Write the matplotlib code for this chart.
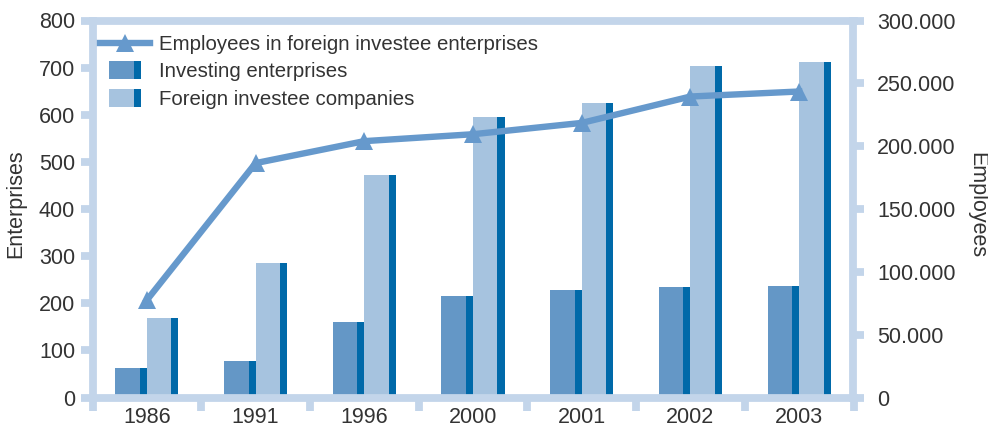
import matplotlib
matplotlib.use("Agg")
import matplotlib.pyplot as plt
import numpy as np
from matplotlib.patches import Rectangle
from matplotlib.lines import Line2D
from matplotlib.legend_handler import HandlerBase
from matplotlib.ticker import FuncFormatter, FixedLocator, MultipleLocator

plt.rcParams['font.family'] = ['Liberation Sans', 'DejaVu Sans']

# ---- data ----
years = ["1986", "1991", "1996", "2000", "2001", "2002", "2003"]
investing = [62, 78, 160, 215, 228, 234, 236]
foreign = [168, 286, 473, 595, 625, 703, 712]
employees = [77500, 186500, 204000, 209500, 218500, 239500, 243500]

series_labels = ["Employees in foreign investee enterprises",
                 "Investing enterprises",
                 "Foreign investee companies"]

# ---- style ----
C_INV = "#6497c6"
C_STRIPE = "#0069a9"
C_FOR = "#a6c3df"
C_LINE = "#6699cc"
C_AX = "#c3d5ea"
C_TXT = "#333333"
FS = 15.5

fig = plt.figure(figsize=(9.88, 4.28), dpi=100)
ax = fig.add_axes([92.5 / 988, 30.5 / 428, 761 / 988, 377 / 428])
ax2 = ax.twinx()

x = np.arange(len(years))
w = 0.29
s = 0.065

ax.bar(x - w, investing, width=w, align='edge', color=C_INV, lw=0, zorder=1)
ax.bar(x - s, investing, width=s, align='edge', color=C_STRIPE, lw=0, zorder=1)
ax.bar(x, foreign, width=w, align='edge', color=C_FOR, lw=0, zorder=1)
ax.bar(x + w - s, foreign, width=s, align='edge', color=C_STRIPE, lw=0, zorder=1)

line, = ax2.plot(x, employees, color=C_LINE, lw=4.6, marker='^', ms=12.5,
                 mew=0, solid_joinstyle='miter', zorder=3)

ax.set_xlim(-0.5, 6.5)
ax.set_ylim(0, 800)
ax2.set_ylim(0, 300000)

ax.yaxis.set_major_locator(MultipleLocator(100))
ax2.yaxis.set_major_locator(MultipleLocator(50000))
ax2.yaxis.set_major_formatter(FuncFormatter(lambda v, p: f"{int(round(v)):,}".replace(",", ".")))

ax.set_xticks(x)
ax.set_xticklabels(years)
ax.xaxis.set_minor_locator(FixedLocator(np.arange(-0.5, 7.0, 1.0)))

LW = 5.6
for a in (ax, ax2):
    for sp in a.spines.values():
        sp.set_color(C_AX)
        sp.set_linewidth(LW)
ax.spines['right'].set_visible(False)
for k in ('left', 'top', 'bottom'):
    ax2.spines[k].set_visible(False)

ax.tick_params(axis='x', which='major', length=0, pad=7, labelsize=FS, labelcolor=C_TXT)
ax.tick_params(axis='x', which='minor', length=9, width=LW, color=C_AX, direction='out')
ax.tick_params(axis='y', length=9, width=LW, color=C_AX, direction='out', pad=3.5,
               labelsize=FS, labelcolor=C_TXT)
ax2.tick_params(axis='y', length=8, width=LW, color=C_AX, direction='out', pad=9,
                labelsize=FS, labelcolor=C_TXT)

fig.text(16 / 988, 1 - 204 / 428, "Enterprises", rotation=90, ha='center', va='center',
         fontsize=FS, color=C_TXT)
fig.text(977 / 988, 1 - 205 / 428, "Employees", rotation=270, ha='center', va='center',
         fontsize=FS, color=C_TXT)


class StripeHandler(HandlerBase):
    def __init__(self, main, stripe):
        super().__init__()
        self.main = main
        self.stripe = stripe

    def create_artists(self, legend, orig_handle, xdescent, ydescent, width, height,
                       fontsize, trans):
        bw = width * 0.64
        x0 = -xdescent + (width - bw) / 2
        bh = height * 1.25
        y0 = -ydescent + (height - bh) / 2
        sw = bw * 0.22
        r1 = Rectangle((x0, y0), bw - sw, bh, facecolor=self.main, lw=0, transform=trans)
        r2 = Rectangle((x0 + bw - sw, y0), sw, bh, facecolor=self.stripe, lw=0, transform=trans)
        return [r1, r2]


h_inv = Rectangle((0, 0), 1, 1)
h_for = Rectangle((0, 0), 1, 1)
leg = ax2.legend([line, h_inv, h_for], series_labels,
                 handler_map={h_inv: StripeHandler(C_INV, C_STRIPE),
                              h_for: StripeHandler(C_FOR, C_STRIPE)},
                 loc='upper left', bbox_to_anchor=(0.01, 0.962), borderaxespad=0,
                 borderpad=0, frameon=False, fontsize=14.65, handlelength=2.45,
                 handletextpad=0.45, labelspacing=0.42, numpoints=1)
for t in leg.get_texts():
    t.set_color(C_TXT)

fig.savefig("out.png", dpi=100)
